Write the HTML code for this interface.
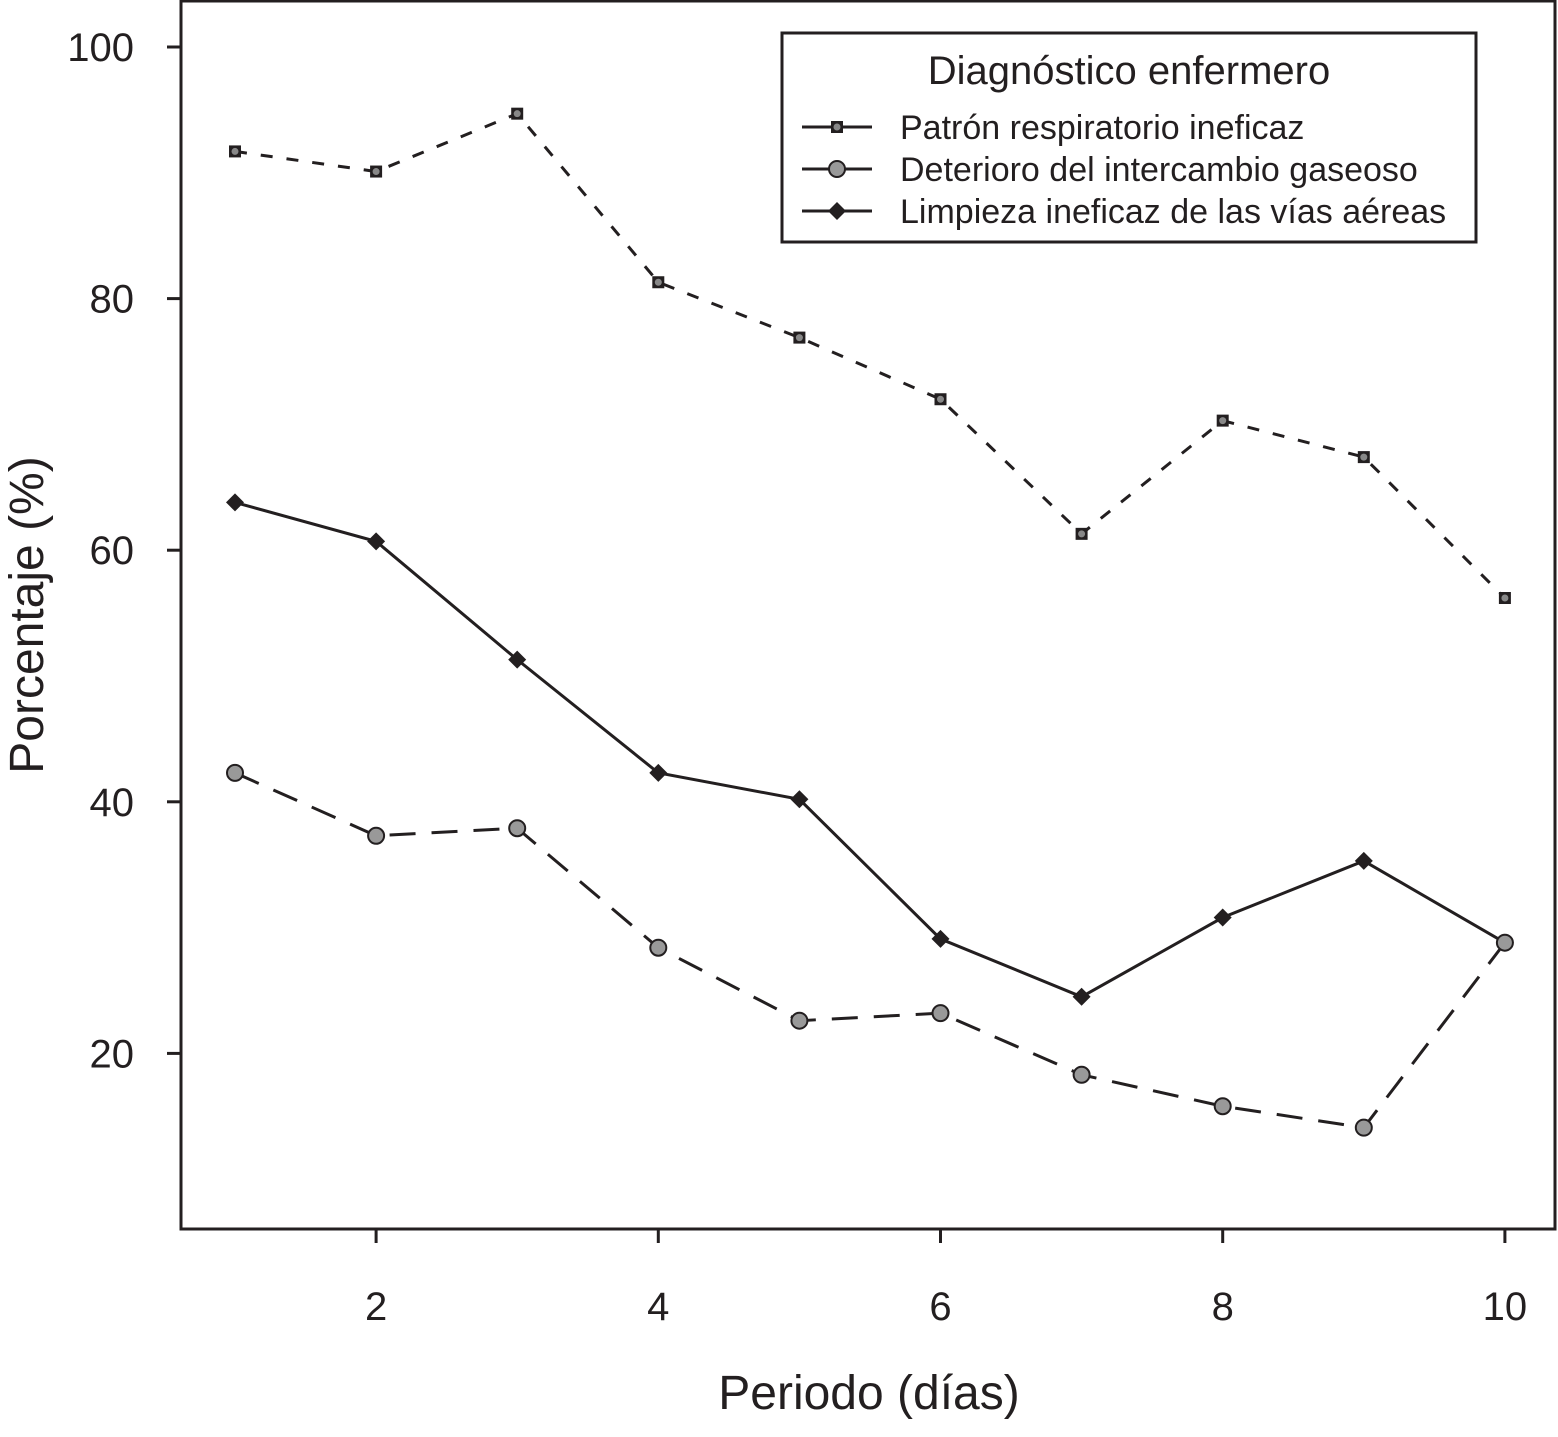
<!DOCTYPE html>
<html><head><meta charset="utf-8"><style>
body{margin:0;background:#fff}
svg text{font-family:"Liberation Sans",sans-serif;fill:#231f20}
</style></head><body>
<svg id="chart" width="1558" height="1432">
<rect x="181" y="1" width="1374" height="1228" fill="none" stroke="#231f20" stroke-width="3"/>
<g id="axes"></g>
<g id="series"></g>
<text x="43" y="615" font-size="48" text-anchor="middle" transform="rotate(-90 43 615)">Porcentaje (%)</text>
<text x="869" y="1409" font-size="48" text-anchor="middle">Periodo (días)</text>
<g>
<rect x="782" y="33" width="694" height="209" fill="#fff" stroke="#231f20" stroke-width="3"/>
<text x="1129" y="84" font-size="40" text-anchor="middle">Diagnóstico enfermero</text>
<g>
<line x1="802" y1="127" x2="872" y2="127" stroke="#231f20" stroke-width="3"/>
<rect x="831" y="121" width="12" height="12" fill="#231f20"/><circle cx="837" cy="127" r="3.5" fill="#888"/>
<text x="900" y="139" font-size="34">Patrón respiratorio ineficaz</text></g>
<g>
<line x1="802" y1="169" x2="872" y2="169" stroke="#231f20" stroke-width="3"/>
<circle cx="837" cy="169" r="8" fill="#999" stroke="#231f20" stroke-width="2"/>
<text x="900" y="181" font-size="34">Deterioro del intercambio gaseoso</text></g>
<g>
<line x1="802" y1="211" x2="872" y2="211" stroke="#231f20" stroke-width="3"/>
<polygon points="837,202 846,211 837,220 828,211" fill="#231f20"/>
<text x="900" y="223" font-size="34">Limpieza ineficaz de las vías aéreas</text></g>
</g>
</svg>
<script>
const days=[1,2,3,4,5,6,7,8,9,10];
const patron=[91.7,90.1,94.7,81.3,76.9,72.0,61.3,70.3,67.4,56.2];
const deterioro=[42.3,37.3,37.9,28.4,22.6,23.2,18.3,15.8,14.1,28.8];
const limpieza=[63.8,60.7,51.3,42.3,40.2,29.1,24.5,30.8,35.3,28.8];
const yTicks=[20,40,60,80,100];
const xTicks=[2,4,6,8,10];
const NS="http://www.w3.org/2000/svg";
const X=d=>235+(d-1)*141.1;
const Y=v=>47+(100-v)*12.58;
const axes=document.getElementById('axes'),ser=document.getElementById('series');
function mk(t,a,p){const e=document.createElementNS(NS,t);for(const k in a)e.setAttribute(k,a[k]);p.appendChild(e);return e;}
yTicks.forEach(v=>{
 const l=mk('line',{x1:167,x2:181,y1:Y(v),y2:Y(v),stroke:'#231f20','stroke-width':3},axes);
 
 
 const t=mk('text',{x:134,y:Y(v)+14,'font-size':40,'text-anchor':'end'},axes);t.textContent=v;
 
 
});
xTicks.forEach(v=>{
 const l=mk('line',{x1:X(v),x2:X(v),y1:1229,y2:1243,stroke:'#231f20','stroke-width':3},axes);
 
 
 const t=mk('text',{x:X(v),y:1320,'font-size':40,'text-anchor':'middle'},axes);t.textContent=v;
 
 
});
function line(vals,dash,name){
 const p=mk('polyline',{points:vals.map((v,i)=>X(days[i])+','+Y(v)).join(' '),fill:'none',stroke:'#231f20','stroke-width':3,'stroke-dasharray':dash},ser);
 
 
}
line(patron,'12,14','line-patron');
line(deterioro,'26,16','line-deterioro');
line(limpieza,'none','line-limpieza');
patron.forEach((v,i)=>{
 const g=mk('g',{},ser);
 
 
 mk('rect',{x:X(days[i])-6,y:Y(v)-6,width:12,height:12,fill:'#231f20'},g);
 mk('circle',{cx:X(days[i]),cy:Y(v),r:3.5,fill:'#888'},g);
});
limpieza.forEach((v,i)=>{
 const x=X(days[i]),y=Y(v);
 const p=mk('polygon',{points:`${x},${y-9} ${x+9},${y} ${x},${y+9} ${x-9},${y}`,fill:'#231f20'},ser);
 
 
});
deterioro.forEach((v,i)=>{
 const c=mk('circle',{cx:X(days[i]),cy:Y(v),r:8,fill:'#999',stroke:'#231f20','stroke-width':2},ser);
 
 
});
</script>
</body></html>
